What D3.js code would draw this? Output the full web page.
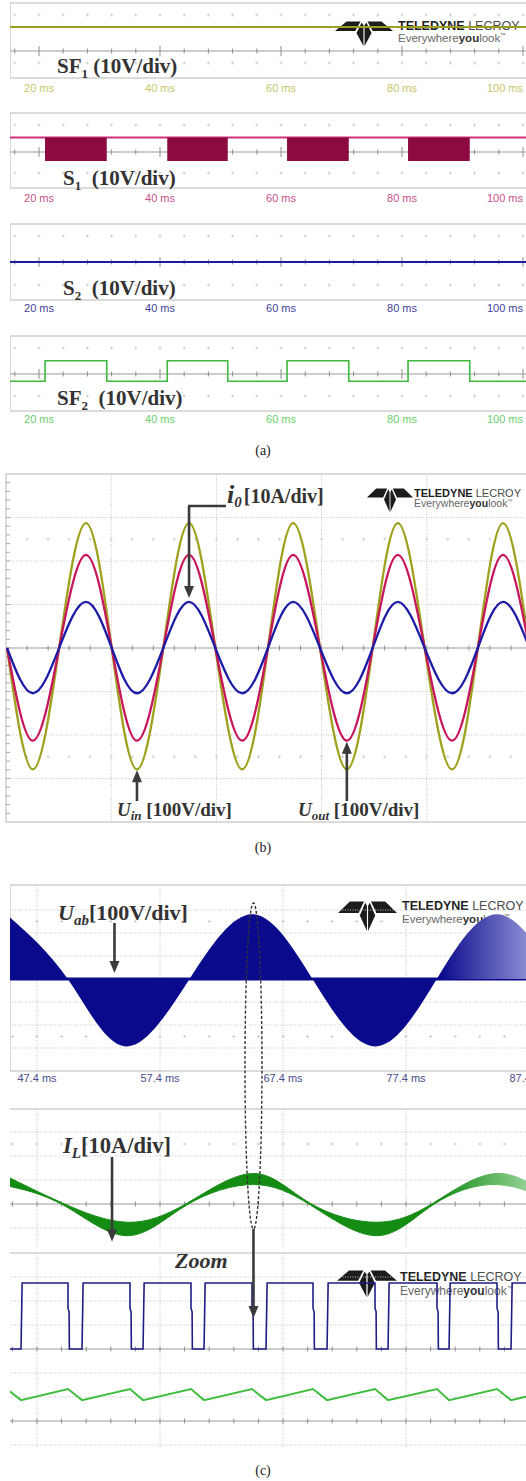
<!DOCTYPE html>
<html>
<head>
<meta charset="utf-8">
<script src="https://cdn.jsdelivr.net/npm/d3@7"></script>
<style>
html, body { margin: 0; padding: 0; background: #fff; }
svg { display: block; }
</style>
</head>
<body>
<svg id="fig" width="526" height="1481"></svg>
<script>
// ---------------- data: panel (a) gate signals ----------------
const msTicksA = [20, 40, 60, 80, 100];          // ms
const sf1Level = 20;                             // V
const s1Level = 12;                              // V
const s1BurstLow = -7.5;                         // V, lower edge of switching bursts
const s1BurstStart = [21.0, 41.2, 61.0, 81.0];   // ms
const s1BurstEnd   = [31.2, 51.2, 71.2, 91.2];   // ms
const s2Level = 0;                               // V
const sf2High = 11, sf2Low = -6;                 // V
const sf2RiseTimes = [21.0, 41.2, 61.0, 81.0];   // ms
const sf2FallTimes = [31.2, 51.2, 71.2, 91.2];   // ms

// ---------------- data: panel (b) input / output ----------------
const bTimes     = [0.2, 5.1, 10.1, 15.2, 20.1, 24.9, 29.9, 34.8, 39.8, 44.9, 49.8,
                    54.6, 59.7, 64.8, 69.7, 74.5, 79.6, 84.8, 89.7, 94.5, 99.5];   // ms
const uInValues  = [0, -279, 0, 287, 0, -279, 0, 287, 0, -279, 0,
                    287, 0, -279, 0, 287, 0, -279, 0, 287, 0];                       // V
const uOutValues = [0, -213, 0, 214, 0, -213, 0, 214, 0, -213, 0,
                    214, 0, -213, 0, 214, 0, -213, 0, 214, 0];                       // V
const i0Values   = [0, -10.4, 0, 10.6, 0, -10.4, 0, 10.6, 0, -10.4, 0,
                    10.6, 0, -10.4, 0, 10.6, 0, -10.4, 0, 10.6, 0];                  // A

// ---------------- data: panel (c) bridge voltage / inductor current ----------------
const msTicksC    = [47.4, 57.4, 67.4, 77.4, 87.4];                                  // ms
const uabTimes    = [44.9, 49.9, 54.6, 59.8, 64.9, 69.8, 74.9, 79.9, 84.8, 89.8];    // ms
const uabEnvelope = [282, 0, -293, 0, 282, 0, -293, 0, 282, 0];                      // V
const ilTimes     = [44.6, 49.5, 54.7, 59.6, 65.0, 69.6, 75.0, 79.6, 84.8, 89.7];    // ms
const ilCenter    = [10.2, 0, -10.4, 0, 10.4, 0, -10.4, 0, 10.4, 0];                 // A
const ilRipple    = [4.4, 0.7, 5.6, 0.7, 4.6, 0.7, 5.6, 0.7, 4.6, 0.7];              // A p-p

// zoomed switching detail (µs)
const swLowStart = [-24.4, 25.2, 75.6, 125.2, 174.8, 224.4, 274.8, 325.2, 374.0, 424.0];
const swLowEnd   = [-13.0, 36.6, 86.2, 135.8, 186.2, 235.8, 285.4, 335.0, 385.4, 435.0];
const swHigh = 275, swKnee = 170;   // V
const rampPeak = 13.3, rampTrough = 8.7;   // A

// ---------------- drawing helpers ----------------
const W = 526;
const SANS = "'Liberation Sans', Arial, sans-serif";
const SERIF = "'Liberation Serif', 'Times New Roman', serif";
const GRID = '#c2c2c2';
const FRAME = '#b8b8b8';
const INK = '#333';

const svg = d3.select('#fig');
svg.append('rect').attr('width', W).attr('height', 1481).attr('fill', '#fff');
const defs = svg.append('defs');

function clip(id, x, y, w, h) {
  defs.append('clipPath').attr('id', id)
    .append('rect').attr('x', x).attr('y', y).attr('width', w).attr('height', h);
  return svg.append('g').attr('clip-path', `url(#${id})`);
}

function hline(g, x1, x2, y, color, dotted, width) {
  g.append('line').attr('x1', x1).attr('x2', x2).attr('y1', y).attr('y2', y)
    .attr('stroke', color).attr('stroke-width', width || 1)
    .attr('stroke-dasharray', dotted ? '1,1.5' : null);
}
function vline(g, x, y1, y2, color, dotted, width) {
  g.append('line').attr('x1', x).attr('x2', x).attr('y1', y1).attr('y2', y2)
    .attr('stroke', color).attr('stroke-width', width || 1)
    .attr('stroke-dasharray', dotted ? '1,1.5' : null);
}
function plusRow(g, xs, y) {
  xs.forEach(x => {
    hline(g, x - 1.5, x + 1.5, y, '#cfcfcf');
    vline(g, x, y - 1.5, y + 1.5, '#cfcfcf');
  });
}
function tickAxis(g, xs, y, x1, x2, majors, size) {
  hline(g, x1, x2, y, '#9a9a9a', false, 1.1);
  xs.forEach((x, i) => {
    const s = majors && majors.includes(i) ? size + 2.5 : size;
    vline(g, x, y - s, y + s, '#8e8e8e');
  });
}
function arrowHead(g, x, y, dir) {
  const L = 12, hw = 5;
  const d = dir === 'down'
    ? `M${x},${y} L${x - hw},${y - L} L${x + hw},${y - L} Z`
    : `M${x},${y} L${x - hw},${y + L} L${x + hw},${y + L} Z`;
  g.append('path').attr('d', d).attr('fill', '#3a3a3a');
}
function arrow(g, x, yFrom, yTo) {
  const dir = yTo > yFrom ? 'down' : 'up';
  const stop = dir === 'down' ? yTo - 10 : yTo + 10;
  vline(g, x, yFrom, stop, '#3a3a3a', false, 2.6);
  arrowHead(g, x, yTo, dir);
}

// Teledyne LeCroy badge
function logo(o) {
  const g = svg.append('g');
  const P = (px, py) => [o.x + px * o.w, o.y + py * o.h];
  const polys = [
    [P(0, 0.40), P(0.20, 0.02), P(0.44, 0.02), P(0.35, 0.40)],
    [P(1, 0.40), P(0.80, 0.02), P(0.56, 0.02), P(0.65, 0.40)],
    [P(0.46, 0.06), P(0.49, 0.16), P(0.49, 1.0), P(0.37, 0.48)],
    [P(0.54, 0.06), P(0.51, 0.16), P(0.51, 1.0), P(0.63, 0.48)]
  ];
  polys.forEach(p => g.append('path').attr('d', 'M' + p.join('L') + 'Z').attr('fill', '#1c1c1c'));
  const t1 = g.append('text').attr('x', o.tx).attr('y', o.b1)
    .attr('font-family', SANS).attr('font-size', o.fs1);
  t1.append('tspan').attr('font-weight', 'bold').attr('fill', '#1e1e1e').text('TELEDYNE');
  t1.append('tspan').attr('fill', '#4a4a4a').text(' LECROY');
  const t2 = g.append('text').attr('x', o.tx).attr('y', o.b2)
    .attr('font-family', SANS).attr('font-size', o.fs2);
  t2.append('tspan').attr('fill', '#666').text('Everywhere');
  t2.append('tspan').attr('font-weight', 'bold').attr('fill', '#333').text('you');
  t2.append('tspan').attr('fill', '#666').text('look');
  t2.append('tspan').attr('fill', '#666').attr('font-size', o.fs2 * 0.5).attr('dy', -o.fs2 * 0.4).text('™');
}

// rich label: parts = [{t, size, italic, sub}]
function richLabel(g, x, y, parts, size) {
  const t = g.append('text').attr('x', x).attr('y', y)
    .attr('font-family', SERIF).attr('font-weight', 'bold').attr('font-size', size)
    .attr('fill', INK).attr('xml:space', 'preserve');
  let shifted = false;
  parts.forEach(p => {
    const ts = t.append('tspan').text(p.t);
    if (p.size) ts.attr('font-size', p.size);
    if (p.italic) ts.attr('font-style', 'italic');
    if (p.sub && !shifted) { ts.attr('dy', size * 0.22); shifted = true; }
    else if (!p.sub && shifted) { ts.attr('dy', -size * 0.22); shifted = false; }
    if (p.dx) ts.attr('dx', p.dx);
  });
  return t;
}

// ================= panel (a) =================
const xA = d3.scaleLinear().domain([20, 100]).range([39, 523]);
const minorA = d3.range(16, 101, 4);
const stripsA = [
  { top: 3,   bottom: 78,  axis: 51,  tickColor: '#c6c66a', lab: 92,
    label: [{ t: 'SF' }, { t: '1', size: 13, sub: true }, { t: ' (10V/div)' }], lx: 57, ly: 73 },
  { top: 113, bottom: 188, axis: 152, tickColor: '#c8508a', lab: 202,
    label: [{ t: 'S' }, { t: '1', size: 13, sub: true }, { t: '  (10V/div)' }], lx: 63, ly: 185 },
  { top: 224, bottom: 300, axis: 262, tickColor: '#42429a', lab: 312,
    label: [{ t: 'S' }, { t: '2', size: 13, sub: true }, { t: '  (10V/div)' }], lx: 63, ly: 295 },
  { top: 336, bottom: 411, axis: 374, tickColor: '#6ad06a', lab: 423,
    label: [{ t: 'SF' }, { t: '2', size: 13, sub: true }, { t: '  (10V/div)' }], lx: 57, ly: 405 }
];

logo({ x: 335, y: 21, w: 58, h: 25, tx: 398, b1: 30, b2: 42, fs1: 12.5, fs2: 11.5 });

stripsA.forEach((s, k) => {
  const g = clip('clipA' + k, 10, s.top - 1, W - 10, s.bottom - s.top + 2);
  const y = d3.scaleLinear().domain([0, 10]).range([s.axis, s.axis - 12]);
  s.y = y; s.g = g;
  g.append('rect').attr('x', 10).attr('y', s.top).attr('width', W).attr('height', s.bottom - s.top)
    .attr('fill', 'none').attr('stroke', FRAME);
  plusRow(g, minorA.map(xA), s.top + 12);
  plusRow(g, minorA.map(xA), s.bottom - 15);
  tickAxis(g, minorA.map(xA), s.axis, 10, W, minorA.map((v, i) => v % 20 === 0 ? i : -1), 2.5);
  // time labels
  msTicksA.forEach(v => {
    const x = xA(v);
    const last = x + 18 > 523;
    svg.append('text').attr('x', last ? 523 : x).attr('y', s.lab)
      .attr('text-anchor', last ? 'end' : 'middle')
      .attr('font-family', SANS).attr('font-size', 11).attr('fill', s.tickColor)
      .text(`${v} ms`);
  });
});

// SF1 constant level
stripsA[0].g.append('line').attr('x1', 10).attr('x2', W)
  .attr('y1', stripsA[0].y(sf1Level)).attr('y2', stripsA[0].y(sf1Level))
  .attr('stroke', '#9d9d22').attr('stroke-width', 2);

// S1 level with switching bursts
{
  const s = stripsA[1];
  s.g.append('line').attr('x1', 10).attr('x2', W)
    .attr('y1', s.y(s1Level)).attr('y2', s.y(s1Level))
    .attr('stroke', '#d0307a').attr('stroke-width', 2);
  s.g.selectAll('rect.burst').data(d3.zip(s1BurstStart, s1BurstEnd)).join('rect')
    .attr('class', 'burst')
    .attr('x', d => xA(d[0])).attr('width', d => xA(d[1]) - xA(d[0]))
    .attr('y', s.y(s1Level)).attr('height', s.y(s1BurstLow) - s.y(s1Level))
    .attr('fill', '#8c0a40');
}

// S2 held low
{
  const s = stripsA[2];
  s.g.append('line').attr('x1', 10).attr('x2', W)
    .attr('y1', s.y(s2Level)).attr('y2', s.y(s2Level))
    .attr('stroke', '#1c1c9c').attr('stroke-width', 2.2);
}

// SF2 square wave
{
  const s = stripsA[3];
  const pts = [[15, sf2Low]];
  sf2RiseTimes.forEach((r, i) => {
    pts.push([r, sf2Low], [r, sf2High], [sf2FallTimes[i], sf2High], [sf2FallTimes[i], sf2Low]);
  });
  pts.push([101, sf2Low]);
  s.g.append('path').attr('d', d3.line().x(d => xA(d[0])).y(d => s.y(d[1]))(pts))
    .attr('fill', 'none').attr('stroke', '#3fb83f').attr('stroke-width', 1.6);
}

stripsA.forEach(s => richLabel(svg, s.lx, s.ly, s.label, 21));

svg.append('text').attr('x', 263).attr('y', 455).attr('text-anchor', 'middle')
  .attr('font-family', SERIF).attr('font-size', 14).attr('fill', '#222').text('(a)');

// ================= panel (b) =================
const xB = d3.scaleLinear().domain([0, 100]).range([6, 532]);
const yU = d3.scaleLinear().domain([-400, 400]).range([822, 474]);
const yI = d3.scaleLinear().domain([-40, 40]).range([822, 474]);
{
  const g = clip('clipB', 5, 473, W - 5, 351);
  g.append('rect').attr('x', 6).attr('y', 474).attr('width', 540).attr('height', 348)
    .attr('fill', 'none').attr('stroke', FRAME);
  [20, 40, 60, 80].forEach(t => vline(g, xB(t), 474, 822, GRID, true));
  [-300, -200, -100, 100, 200, 300].forEach(v => hline(g, 6, W, yU(v), GRID, true));
  const minorB = d3.range(4, 101, 4).map(xB);
  plusRow(g, minorB, yU(250));
  plusRow(g, minorB, yU(-250));
  tickAxis(g, minorB, yU(0), 6, W, null, 2.5);
  d3.range(-380, 400, 20).forEach(v => hline(g, 6, 10, yU(v), '#a8a8a8'));

  logo({ x: 367, y: 488, w: 46, h: 24, tx: 414, b1: 497, b2: 507, fs1: 11, fs2: 10.5 });

  const series = [
    { v: uInValues, y: yU, c: '#9fa01c' },
    { v: uOutValues, y: yU, c: '#c8165c' },
    { v: i0Values, y: yI, c: '#1c1ca6' }
  ];
  series.forEach(s => {
    const line = d3.line().curve(d3.curveNatural).x((d, i) => xB(bTimes[i])).y(d => s.y(d));
    g.append('path').attr('d', line(s.v)).attr('fill', 'none')
      .attr('stroke', s.c).attr('stroke-width', 2.3);
  });

  // annotations
  const ax = xB(bTimes[7]);
  const aTip = yI(i0Values[7]) - 4;
  const lead = svg.append('g');
  hline(lead, ax - 1, 226, 506, '#3a3a3a', false, 2.6);
  arrow(lead, ax, 506, aTip);
  richLabel(svg, 227, 503, [{ t: 'i', size: 26, italic: true }, { t: '0', size: 15, italic: true, sub: true }, { t: '[10A/div]', dx: 2 }], 20);

  arrow(lead, xB(bTimes[5]), 801, yU(uInValues[5]) + 1);
  arrow(lead, xB(bTimes[13]), 801, yU(uOutValues[13]) + 1);
  richLabel(svg, 117, 816, [{ t: 'U', italic: true }, { t: 'in', size: 13, italic: true, sub: true }, { t: ' [100V/div]' }], 19);
  richLabel(svg, 298, 816, [{ t: 'U', italic: true }, { t: 'out', size: 13, italic: true, sub: true }, { t: ' [100V/div]' }], 19);
}
svg.append('text').attr('x', 263).attr('y', 852).attr('text-anchor', 'middle')
  .attr('font-family', SERIF).attr('font-size', 14).attr('fill', '#222').text('(b)');

// ================= panel (c) =================
const xC = d3.scaleLinear().domain([47.4, 87.4]).range([37, 529]);
const yUab = d3.scaleLinear().domain([-400, 400]).range([1071, 887]);
const yIL = d3.scaleLinear().domain([-40, 40]).range([1300, 1108]);

function fade(id, c0, c1) {
  const lg = defs.append('linearGradient').attr('id', id)
    .attr('gradientUnits', 'userSpaceOnUse').attr('x1', 440).attr('x2', 526).attr('y1', 0).attr('y2', 0);
  lg.append('stop').attr('offset', 0).attr('stop-color', c0);
  lg.append('stop').attr('offset', 1).attr('stop-color', c1);
}
fade('uabFade', '#0a0a8c', '#8a8ad2');
fade('ilFade', '#148c14', '#92d092');

// Uab window
{
  logo({ x: 338, y: 901, w: 59, h: 30, tx: 402, b1: 910, b2: 923, fs1: 12.5, fs2: 11.5 });
  const g = clip('clipC1', 10, 884, W - 10, 190);
  g.append('rect').attr('x', 10).attr('y', 885).attr('width', W).attr('height', 186)
    .attr('fill', 'none').attr('stroke', FRAME);
  msTicksC.forEach(t => vline(g, xC(t), 885, 1071, GRID, true));
  [-300, -200, -100, 100, 200, 300].forEach(v => hline(g, 10, W, yUab(v), GRID, true));
  const minorC = d3.range(45.4, 88, 2).map(xC);
  plusRow(g, minorC, yUab(250));
  plusRow(g, minorC, yUab(-250));

  hline(g, 10, W, yUab(0), '#0a0a8c', false, 3);
  const area = d3.area().curve(d3.curveNatural)
    .x((d, i) => xC(uabTimes[i])).y0(yUab(0)).y1(d => yUab(d));
  g.append('path').attr('d', area(uabEnvelope)).attr('fill', 'url(#uabFade)');

  msTicksC.forEach(t => svg.append('text').attr('x', xC(t)).attr('y', 1082)
    .attr('text-anchor', 'middle').attr('font-family', SANS).attr('font-size', 11)
    .attr('fill', '#4b4b8e').text(`${t} ms`));
}

// IL window
{
  const g = clip('clipC2', 10, 1108, W - 10, 140);
  hline(g, 10, W, 1109, FRAME, false, 1.2);
  msTicksC.forEach(t => vline(g, xC(t), 1109, 1248, GRID, true));
  [-30, -20, -10, 10, 20, 30].forEach(v => hline(g, 10, W, yIL(v), GRID, true));
  const minorC = d3.range(45.4, 88, 2).map(xC);
  plusRow(g, minorC, yIL(25));
  tickAxis(g, minorC, yIL(0), 10, W, null, 2.5);

  const band = d3.area().curve(d3.curveNatural)
    .x((d, i) => xC(ilTimes[i]))
    .y0((d, i) => yIL(d - ilRipple[i] / 2))
    .y1((d, i) => yIL(d + ilRipple[i] / 2));
  g.append('path').attr('d', band(ilCenter)).attr('fill', 'url(#ilFade)')
    .attr('stroke', 'url(#ilFade)').attr('stroke-width', 1);
}

// zoomed switching window
const xZ = d3.scaleLinear().domain([0, 400]).range([37, 529]);
const ySW = d3.scaleLinear().domain([0, 100]).range([1349, 1325]);
const yRamp = d3.scaleLinear().domain([0, 10]).range([1421, 1397]);
{
  logo({ x: 337, y: 1270, w: 60, h: 27, tx: 400, b1: 1281, b2: 1295, fs1: 12.5, fs2: 12 });
  const g = clip('clipC3', 10, 1252, W - 10, 198);
  hline(g, 10, W, 1253, FRAME, false, 1.2);
  [0, 100, 200, 300, 400].forEach(t => vline(g, xZ(t), 1253, 1447, GRID, true));
  [1277, 1301, 1325, 1373, 1397, 1445].forEach(y => hline(g, 10, W, y, GRID, true));
  const minorZ = d3.range(-20, 420, 20).map(xZ);
  tickAxis(g, minorZ, ySW(0), 10, W, null, 2.5);
  tickAxis(g, minorZ, yRamp(0), 10, W, null, 2.5);

  const sq = [[-40, swHigh]];
  swLowStart.forEach((s, i) => {
    const e = swLowEnd[i];
    sq.push([s, swHigh], [s, swKnee], [s + 0.9, swKnee - 15], [s + 1.1, 0], [e, 0], [e + 0.9, swHigh]);
  });
  sq.push([460, swHigh]);
  g.append('path').attr('d', d3.line().x(d => xZ(d[0])).y(d => ySW(d[1]))(sq))
    .attr('fill', 'none').attr('stroke', '#1e1e86').attr('stroke-width', 1.6);

  const ramp = [];
  swLowStart.forEach((s, i) => ramp.push([s, rampPeak], [swLowEnd[i], rampTrough]));
  g.append('path').attr('d', d3.line().x(d => xZ(d[0])).y(d => yRamp(d[1]))(ramp))
    .attr('fill', 'none').attr('stroke', '#40bd40').attr('stroke-width', 2);
}

// annotations for panel (c)
{
  const g = svg.append('g');
  richLabel(g, 58, 920, [{ t: 'U', italic: true }, { t: 'ab', size: 15, italic: true, sub: true }, { t: '[100V/div]' }], 22);
  arrow(g, xC(53.7), 923, yUab(0) - 6);
  richLabel(g, 63, 1153, [{ t: 'I', italic: true }, { t: 'L', size: 15, italic: true, sub: true }, { t: '[10A/div]' }], 22.5);
  arrow(g, xC(53.5), 1157, yIL(-10.2) + 13);

  const ex = xC(65.0);
  g.append('ellipse').attr('cx', ex).attr('cy', 1066).attr('rx', 8.5).attr('ry', 163)
    .attr('fill', 'none').attr('stroke', '#333').attr('stroke-width', 1.4)
    .attr('stroke-dasharray', '3,2');
  arrow(g, ex, 1229, 1318);
  g.append('text').attr('x', 175).attr('y', 1268).attr('font-family', SERIF)
    .attr('font-weight', 'bold').attr('font-style', 'italic').attr('font-size', 22)
    .attr('fill', INK).text('Zoom');
}

svg.append('text').attr('x', 263).attr('y', 1475).attr('text-anchor', 'middle')
  .attr('font-family', SERIF).attr('font-size', 14).attr('fill', '#222').text('(c)');
</script>
</body>
</html>
